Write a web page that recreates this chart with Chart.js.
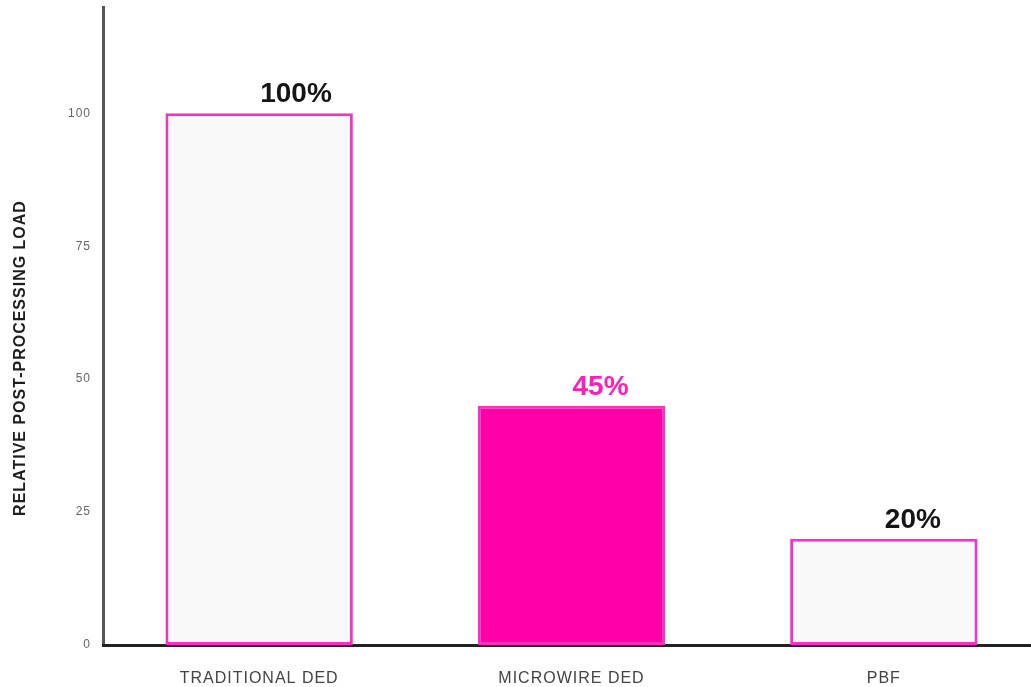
<!DOCTYPE html>
<html>
<head>
<meta charset="utf-8">
<script src="https://cdn.jsdelivr.net/npm/chart.js@4"></script>
<style>
  html, body { margin: 0; padding: 0; background: #fff; overflow: hidden; }
  #wrap { width: 1042px; height: 687px; }
</style>
</head>
<body>
<div id="wrap"><canvas id="chart" width="1042" height="687"></canvas></div>
<script>
// values
const categories = ['TRADITIONAL DED', 'MICROWIRE DED', 'PBF'];
const loads = [100, 45, 20];
const valueLabels = ['100%', '45%', '20%'];
const yTicks = [0, 25, 50, 75, 100];

const pink = '#ff2fc4';
const fills = ['#f9f9f9', '#ff00a8', '#f9f9f9'];
const labelColors = ['#151515', '#ff1fb4', '#151515'];

// a touch of letter spacing so the axis text is as wide as the reference
const spacingPlugin = {
    id: 'spacing',
    beforeDraw(chart) {
        chart.ctx.letterSpacing = '1px';
    }
};

// value labels above bars, left edge at bar centre
const valueLabelPlugin = {
    id: 'valueLabels',
    afterDatasetsDraw(chart) {
        const ctx = chart.ctx;
        const meta = chart.getDatasetMeta(0);
        ctx.save();
        ctx.letterSpacing = '0px';
        ctx.font = 'bold 28px "Liberation Sans", Arial, sans-serif';
        ctx.textAlign = 'left';
        ctx.textBaseline = 'alphabetic';
        meta.data.forEach(function (bar, i) {
            ctx.fillStyle = labelColors[i];
            ctx.fillText(valueLabels[i], bar.x + 1, bar.y - 11);
        });
        ctx.restore();
    }
};

// y axis title, sits a bit below the axis centre in the reference
const yTitlePlugin = {
    id: 'yTitle',
    afterDraw(chart) {
        const ctx = chart.ctx;
        ctx.save();
        ctx.translate(21, 358);
        ctx.rotate(-Math.PI / 2);
        ctx.letterSpacing = '1px';
        ctx.font = 'bold 16px "Liberation Sans", Arial, sans-serif';
        ctx.fillStyle = '#1e1e1e';
        ctx.textAlign = 'center';
        ctx.textBaseline = 'middle';
        ctx.fillText('RELATIVE POST-PROCESSING LOAD', 0, 0);
        ctx.restore();
    }
};

const config = {
    type: 'bar',
    data: {
        labels: categories,
        datasets: [{
            data: loads,
            backgroundColor: fills,
            borderColor: pink,
            borderWidth: 3,
            borderSkipped: false,
            categoryPercentage: 1,
            barPercentage: 0.6
        }]
    },
    options: {
        responsive: false,
        animation: false,
        devicePixelRatio: 1,
        layout: { padding: { top: 7, right: 2, left: 0, bottom: 0 } },
        plugins: {
            legend: { display: false },
            tooltip: { enabled: false }
        },
        scales: {
            y: {
                min: 0,
                max: 120,
                afterBuildTicks: function (scale) {
                    scale.ticks = yTicks.map(function (v) { return { value: v }; });
                },
                afterFit: function (scale) {
                    scale.width = 103;
                    scale.paddingTop = 0;
                    scale.paddingBottom = 0;
                },
                grid: { display: false, drawTicks: false },
                border: { display: true, color: '#555', width: 3 },
                ticks: {
                    padding: 12,
                    color: '#666',
                    font: { family: '"Liberation Sans", Arial, sans-serif', size: 12 }
                }
            },
            x: {
                afterFit: function (scale) { scale.height = 42; },
                grid: { display: false, drawTicks: false },
                border: { display: true, color: '#222', width: 3 },
                ticks: {
                    padding: 24,
                    color: '#444',
                    font: { family: '"Liberation Sans", Arial, sans-serif', size: 16 }
                }
            }
        }
    },
    plugins: [spacingPlugin, valueLabelPlugin, yTitlePlugin]
};

new Chart(document.getElementById('chart'), config);
</script>
</body>
</html>
